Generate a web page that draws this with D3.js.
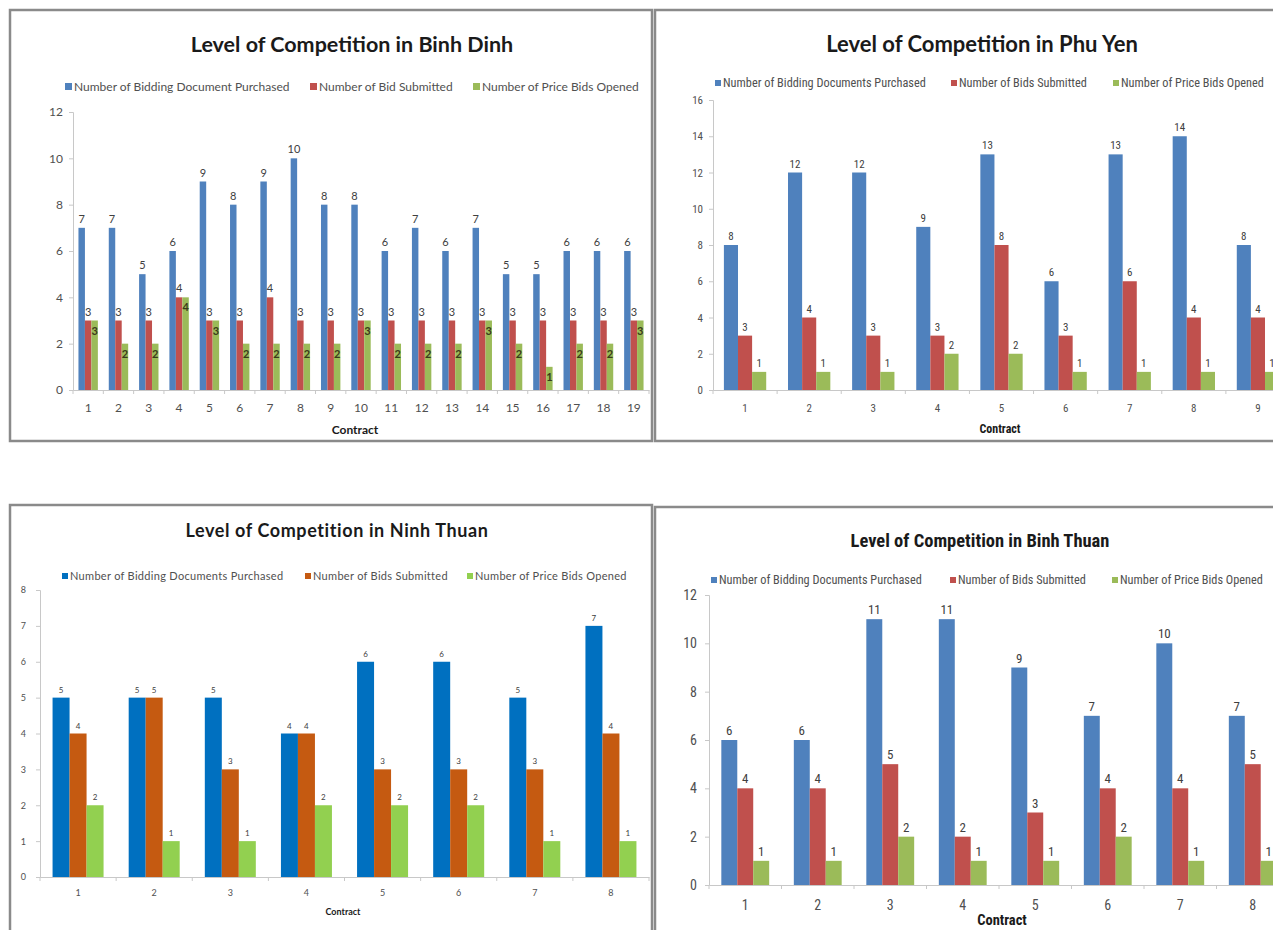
<!DOCTYPE html>
<html>
<head>
<meta charset="utf-8">
<script src="https://cdn.jsdelivr.net/npm/d3@7"></script>
<style>
  html, body { margin: 0; padding: 0; background: #fff; }
  svg { display: block; }
</style>
</head>
<body>
<svg id="chart" width="1273" height="930"></svg>
<script>
// ---- Binh Dinh ----
const binhDinhContracts = d3.range(1, 20).map(String);
const binhDinhPurchased = [7, 7, 5, 6, 9, 8, 9, 10, 8, 8, 6, 7, 6, 7, 5, 5, 6, 6, 6];
const binhDinhSubmitted = [3, 3, 3, 4, 3, 3, 4, 3, 3, 3, 3, 3, 3, 3, 3, 3, 3, 3, 3];
const binhDinhOpened    = [3, 2, 2, 4, 3, 2, 2, 2, 2, 3, 2, 2, 2, 3, 2, 1, 2, 2, 3];
const binhDinhTicks = [0, 2, 4, 6, 8, 10, 12];
const binhDinhSeries = ["Number of Bidding Document Purchased", "Number of Bid Submitted", "Number of Price Bids Opened"];

// ---- Phu Yen ----
const phuYenContracts = ["1", "2", "3", "4", "5", "6", "7", "8", "9"];
const phuYenPurchased = [8, 12, 12, 9, 13, 6, 13, 14, 8];
const phuYenSubmitted = [3, 4, 3, 3, 8, 3, 6, 4, 4];
const phuYenOpened    = [1, 1, 1, 2, 2, 1, 1, 1, 1];
const phuYenTicks = [0, 2, 4, 6, 8, 10, 12, 14, 16];
const phuYenSeries = ["Number of Bidding Documents Purchased", "Number of Bids Submitted", "Number of Price Bids Opened"];

// ---- Ninh Thuan ----
const ninhThuanContracts = ["1", "2", "3", "4", "5", "6", "7", "8"];
const ninhThuanPurchased = [5, 5, 5, 4, 6, 6, 5, 7];
const ninhThuanSubmitted = [4, 5, 3, 4, 3, 3, 3, 4];
const ninhThuanOpened    = [2, 1, 1, 2, 2, 2, 1, 1];
const ninhThuanTicks = [0, 1, 2, 3, 4, 5, 6, 7, 8];
const ninhThuanSeries = ["Number of Bidding Documents Purchased", "Number of Bids Submitted", "Number of Price Bids Opened"];

// ---- Binh Thuan ----
const binhThuanContracts = ["1", "2", "3", "4", "5", "6", "7", "8"];
const binhThuanPurchased = [6, 6, 11, 11, 9, 7, 10, 7];
const binhThuanSubmitted = [4, 4, 5, 2, 3, 4, 4, 5];
const binhThuanOpened    = [1, 1, 2, 1, 1, 2, 1, 1];
const binhThuanTicks = [0, 2, 4, 6, 8, 10, 12];
const binhThuanSeries = ["Number of Bidding Documents Purchased", "Number of Bids Submitted", "Number of Price Bids Opened"];

const svg = d3.select("#chart");
const BASE_FONT = "Lato, 'Open Sans', sans-serif";
const NARROW_FONT = "'Liberation Sans Narrow', 'Roboto Condensed', Lato, sans-serif";

function drawPanel(p) {
  const g = svg.append("g");

  // chart frame
  g.append("rect")
    .attr("x", p.box[0]).attr("y", p.box[1])
    .attr("width", p.box[2] - p.box[0]).attr("height", p.box[3] - p.box[1])
    .attr("fill", "#fff").attr("stroke", "#8a8a8a").attr("stroke-width", 2.5);

  // title
  g.append("text")
    .attr("x", p.title.x).attr("y", p.title.y)
    .attr("text-anchor", "middle")
    .attr("font-family", p.titleFont || BASE_FONT)
    .attr("font-weight", "bold")
    .attr("font-size", p.title.size)
    .attr("letter-spacing", p.title.spacing || 0)
    .attr("fill", "#1a1a1a")
    .text(p.title.text);

  // legend
  p.series.forEach((name, i) => {
    const lx = p.legend.xs[i];
    g.append("rect")
      .attr("x", lx).attr("y", p.legend.y - p.legend.sq)
      .attr("width", p.legend.sq).attr("height", p.legend.sq)
      .attr("fill", p.colors[i]);
    g.append("text")
      .attr("x", lx + p.legend.sq + 2).attr("y", p.legend.y + 1)
      .attr("font-family", p.font)
      .attr("font-size", p.legend.size)
      .attr("letter-spacing", p.legend.spacing || 0)
      .attr("fill", "#505050")
      .text(name);
  });

  // scales
  const x = d3.scaleBand()
    .domain(p.categories)
    .range([p.plot.x0, p.plot.x1])
    .paddingInner(p.gap).paddingOuter(p.gap / 2);
  const xs = d3.scaleBand()
    .domain(d3.range(p.values.length))
    .range([0, x.bandwidth()]);
  const y = d3.scaleLinear()
    .domain([0, d3.max(p.ticks)])
    .range([p.plot.y0, p.plot.y1]);

  // y axis
  const yAxis = g.append("g")
    .attr("transform", `translate(${p.plot.x0},0)`)
    .call(d3.axisLeft(y).tickValues(p.ticks).tickSize(4).tickPadding(p.yPad).tickFormat(d3.format("d")));
  yAxis.select(".domain").attr("stroke", "#c8c8c8");
  yAxis.selectAll(".tick line").attr("stroke", "#c8c8c8");
  yAxis.selectAll(".tick text")
    .attr("font-family", p.font).attr("font-size", p.axisSize).attr("fill", "#505050");

  // x axis
  const xAxis = g.append("g")
    .attr("transform", `translate(0,${p.plot.y0})`)
    .call(d3.axisBottom(x).tickSize(0).tickPadding(p.xPad));
  xAxis.select(".domain").attr("stroke", "#c8c8c8");
  xAxis.selectAll(".tick text")
    .attr("font-family", p.font).attr("font-size", p.axisSize).attr("fill", "#505050");
  // category boundary ticks
  g.append("g").selectAll("line")
    .data(d3.range(p.categories.length + 1))
    .join("line")
    .attr("x1", i => p.plot.x0 + i * x.step())
    .attr("x2", i => p.plot.x0 + i * x.step())
    .attr("y1", p.plot.y0).attr("y2", p.plot.y0 + 4)
    .attr("stroke", "#c8c8c8");

  // axis title
  g.append("text")
    .attr("x", p.xTitle.x).attr("y", p.xTitle.y)
    .attr("text-anchor", "middle")
    .attr("font-family", p.font)
    .attr("font-weight", "bold")
    .attr("font-size", p.xTitle.size)
    .attr("fill", "#1a1a1a")
    .text("Contract");

  // bars and value labels
  p.values.forEach((vals, si) => {
    const sg = g.append("g");
    sg.selectAll("rect")
      .data(vals)
      .join("rect")
      .attr("x", (d, i) => x(p.categories[i]) + xs(si))
      .attr("y", d => y(d))
      .attr("width", xs.bandwidth())
      .attr("height", d => y(0) - y(d))
      .attr("fill", p.colors[si]);
    const inside = p.insideLabel && p.insideLabel[si];
    sg.selectAll("text")
      .data(vals)
      .join("text")
      .attr("x", (d, i) => x(p.categories[i]) + xs(si) + xs.bandwidth() / 2)
      .attr("y", d => inside ? y(d) + p.labelSize + 3 : y(d) - 5)
      .attr("text-anchor", "middle")
      .attr("font-family", p.font)
      .attr("font-size", p.labelSize)
      .attr("font-weight", inside ? "bold" : "normal")
      .attr("fill", inside ? "#3a3a1a" : "#404040")
      .text(d => d);
  });
}

drawPanel({
  box: [10, 10, 652, 441],
  title: { text: "Level of Competition in Binh Dinh", x: 352, y: 52, size: 21.5 },
  font: BASE_FONT,
  series: binhDinhSeries,
  colors: ["#4F81BD", "#C0504D", "#9BBB59"],
  legend: { y: 90, xs: [65, 310, 473], size: 12, sq: 7 },
  categories: binhDinhContracts,
  values: [binhDinhPurchased, binhDinhSubmitted, binhDinhOpened],
  ticks: binhDinhTicks,
  plot: { x0: 73, x1: 649, y0: 390, y1: 112 },
  gap: 0.36,
  yPad: 6, xPad: 13, axisSize: 12,
  labelSize: 11,
  insideLabel: [false, false, true],
  xTitle: { x: 355, y: 434, size: 12 }
});

drawPanel({
  box: [655, 10, 1295, 441],
  title: { text: "Level of Competition in Phu Yen", x: 982, y: 52, size: 22 },
  font: NARROW_FONT,
  series: phuYenSeries,
  colors: ["#4F81BD", "#C0504D", "#9BBB59"],
  legend: { y: 86, xs: [715, 951, 1113], size: 12.3, sq: 6 },
  categories: phuYenContracts,
  values: [phuYenPurchased, phuYenSubmitted, phuYenOpened],
  ticks: phuYenTicks,
  plot: { x0: 713, x1: 1290, y0: 390, y1: 100 },
  gap: 0.34,
  yPad: 6, xPad: 14, axisSize: 11,
  labelSize: 11,
  xTitle: { x: 1000, y: 433, size: 12 }
});

drawPanel({
  box: [10, 505, 652, 940],
  title: { text: "Level of Competition in Ninh Thuan", x: 337, y: 537, size: 18, spacing: 0.6 },
  font: BASE_FONT,
  series: ninhThuanSeries,
  colors: ["#0070C0", "#C55A11", "#92D050"],
  legend: { y: 579, xs: [62, 305, 467], size: 11, sq: 6, spacing: 0.3 },
  categories: ninhThuanContracts,
  values: [ninhThuanPurchased, ninhThuanSubmitted, ninhThuanOpened],
  ticks: ninhThuanTicks,
  plot: { x0: 40, x1: 649, y0: 877, y1: 590 },
  gap: 0.33,
  yPad: 10, xPad: 13, axisSize: 9,
  labelSize: 8,
  xTitle: { x: 343, y: 915, size: 9 }
});

drawPanel({
  box: [655, 507, 1295, 945],
  title: { text: "Level of Competition in Binh Thuan", x: 980, y: 547, size: 18.5 },
  titleFont: NARROW_FONT,
  font: NARROW_FONT,
  series: binhThuanSeries,
  colors: ["#4F81BD", "#C0504D", "#9BBB59"],
  legend: { y: 583, xs: [711, 950, 1112], size: 12.3, sq: 6 },
  categories: binhThuanContracts,
  values: [binhThuanPurchased, binhThuanSubmitted, binhThuanOpened],
  ticks: binhThuanTicks,
  plot: { x0: 709, x1: 1289, y0: 885, y1: 595 },
  gap: 0.34,
  yPad: 8, xPad: 15, axisSize: 14,
  labelSize: 13,
  xTitle: { x: 1002, y: 925, size: 14.5 }
});
</script>
</body>
</html>
